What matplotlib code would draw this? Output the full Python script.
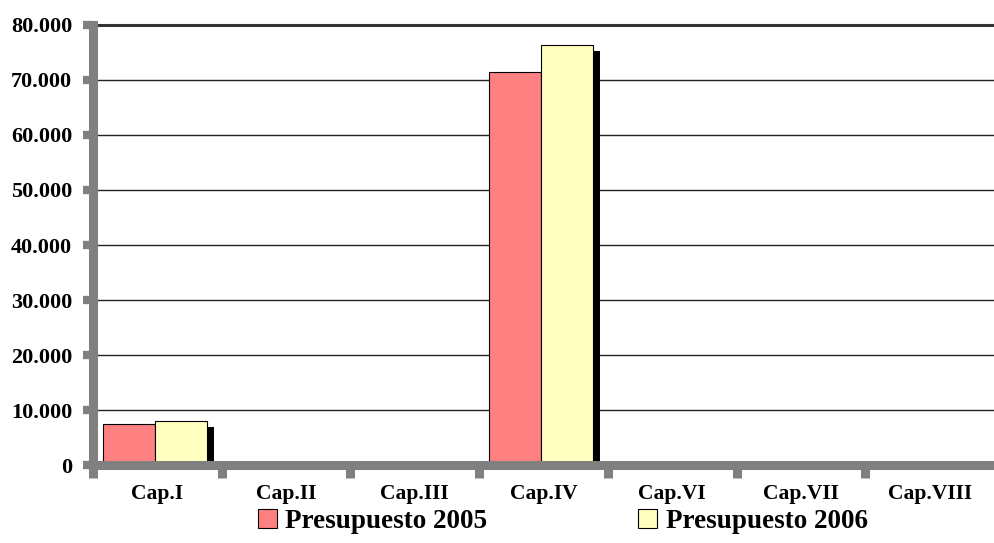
import matplotlib
matplotlib.use("Agg")
import matplotlib.pyplot as plt
import matplotlib.patheffects as pe
from matplotlib.ticker import FuncFormatter, MultipleLocator
from matplotlib.patches import Patch

capitulos = ['Cap.I', 'Cap.II', 'Cap.III', 'Cap.IV', 'Cap.VI', 'Cap.VII', 'Cap.VIII']
presupuesto_2005 = [7450, 0, 0, 71450, 0, 0, 0]
presupuesto_2006 = [8000, 0, 0, 76350, 0, 0, 0]
series_labels = ['Presupuesto 2005', 'Presupuesto 2006']
series_colors = ['#ff8080', '#ffffc0']

plt.rcParams['font.family'] = ['Liberation Serif', 'DejaVu Serif']
plt.rcParams['font.weight'] = 'bold'

fig = plt.figure(figsize=(9.94, 5.43), dpi=100)
ax = fig.add_axes([0.0936, 0.1436, 0.9064, 0.8104])

n = len(capitulos)
bw = 0.404
start = 0.078
shadow = [pe.SimplePatchShadow(offset=(5, -4.5), shadow_rgbFace='black', alpha=1.0), pe.Normal()]

for i in range(n):
    ax.bar(i + start, presupuesto_2005[i], width=bw, align='edge', color=series_colors[0],
           edgecolor='black', linewidth=0.8, zorder=3, path_effects=shadow)
for i in range(n):
    ax.bar(i + start + bw, presupuesto_2006[i], width=bw, align='edge', color=series_colors[1],
           edgecolor='black', linewidth=0.8, zorder=3, path_effects=shadow)

ax.set_xlim(0, n)
ax.set_ylim(0, 80000)
ax.yaxis.set_major_locator(MultipleLocator(10000))
ax.yaxis.set_major_formatter(FuncFormatter(lambda v, p: f"{v:,.0f}".replace(',', '.')))
ax.grid(axis='y', color='#222222', linewidth=1.0, zorder=0)
ax.axhline(80000, color='#333333', linewidth=2.2, zorder=1, clip_on=False)
ax.set_axisbelow(True)

for s in ['top', 'right']:
    ax.spines[s].set_visible(False)
for s in ['left', 'bottom']:
    ax.spines[s].set_color('#808080')
    ax.spines[s].set_linewidth(6.5)
    ax.spines[s].set_zorder(5)

ax.set_xticks(range(n))
ax.set_xticks([i + 0.5 for i in range(n)], minor=True)
ax.set_xticklabels([], minor=False)
ax.set_xticklabels(capitulos, minor=True)
ax.tick_params(axis='x', which='major', direction='out', length=9, width=6.5, color='#808080')
ax.tick_params(axis='x', which='minor', length=0, pad=14, labelsize=15.5)
ax.tick_params(axis='y', direction='out', length=7, width=6, color='#808080', labelsize=16, pad=8)
for lbl in ax.get_xticklabels(minor=True) + ax.get_yticklabels():
    lbl.set_fontweight('bold')

handles = [Patch(facecolor=c, edgecolor='black', linewidth=0.8) for c in series_colors]
fig.legend(handles, series_labels, loc='lower center', bbox_to_anchor=(0.566, -0.028), ncol=2,
           frameon=False, prop={'family': 'Liberation Serif', 'weight': 'bold', 'size': 19.5},
           handlelength=0.7, handleheight=0.7, handletextpad=0.3, columnspacing=5.6)

fig.savefig('out.png', dpi=100)
